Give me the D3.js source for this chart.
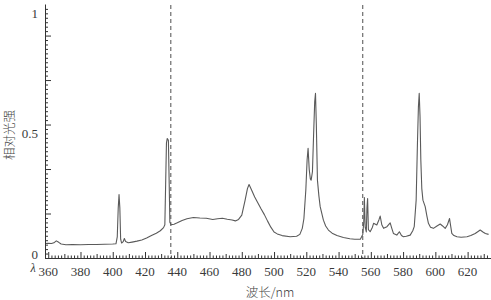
<!DOCTYPE html>
<html>
<head>
<meta charset="utf-8">
<script src="https://cdn.jsdelivr.net/npm/d3@7"></script>
<style>
  body { margin: 0; background: #fff; }
  svg { display: block; }
  .tick-label { font-family: "Liberation Serif", "DejaVu Serif", serif; font-size: 13px; fill: #3a3a3a; }
  .cjk { font-family: "Noto Sans CJK SC", sans-serif; font-size: 12.5px; fill: #444; font-weight: 300; }
</style>
</head>
<body>
<div id="chart"></div>
<script>
// spectrum: wavelength (nm) and relative intensity
var wavelengths = [
  358, 360, 362, 363.5, 365, 366.5, 368, 371, 375, 380, 385, 390, 395, 400,
  402, 402.8, 403.4, 403.9, 404.4, 404.9, 405.5, 406.5, 407.2, 408, 409.6,
  412, 415, 418, 421, 424, 427, 429.5, 431.5, 432.3, 432.8, 433.3, 433.8,
  434.5, 435.0, 435.4, 436.2, 438, 440, 443, 446, 450, 454, 458, 462, 465,
  468, 471, 474, 476, 478, 480, 482, 483.5, 484.5, 486, 488, 490, 492, 494,
  496, 498, 500, 502, 505, 510, 514, 516, 517.5, 518.5, 519.7, 520.5, 521.1,
  521.8, 522.5, 523, 523.8, 524.6, 525.2, 525.7, 526.2, 526.9, 527.8, 528.6,
  530.6, 532, 533.7, 536, 539, 543, 547, 550, 553.5, 555, 555.6, 556, 556.5,
  557.2, 557.6, 558, 558.5, 559.6, 561, 561.7, 563.7, 565, 565.8, 566.8,
  567.9, 570, 572, 573, 574, 576.1, 577.7, 579, 580.2, 582, 584.4, 586,
  586.9, 588.1, 588.9, 589.5, 590, 590.5, 591, 591.6, 592.3, 593.7, 594.8,
  595.7, 597, 598.8, 601, 603, 604.5, 606.1, 607.5, 608.8, 609.6, 610.2,
  611.5, 613.4, 616, 619.6, 622, 624.7, 626.5, 627.8, 629.5, 631, 633
];
var intensity = [
  0.052, 0.053, 0.052, 0.055, 0.063, 0.057, 0.050, 0.047, 0.048, 0.047, 0.048, 0.048, 0.049, 0.050,
  0.051, 0.080, 0.200, 0.255, 0.200, 0.070, 0.054, 0.060, 0.073, 0.060, 0.055,
  0.058, 0.062, 0.067, 0.075, 0.085, 0.095, 0.105, 0.118, 0.130, 0.300, 0.470, 0.488,
  0.480, 0.300, 0.140, 0.130, 0.132, 0.138, 0.148, 0.155, 0.160, 0.158, 0.157, 0.152, 0.155,
  0.157, 0.153, 0.150, 0.146, 0.152, 0.170, 0.230, 0.280, 0.297, 0.275, 0.245, 0.220, 0.195, 0.172,
  0.145, 0.120, 0.100, 0.092, 0.085, 0.080, 0.082, 0.090, 0.115, 0.155, 0.274, 0.400, 0.447,
  0.360, 0.320, 0.315, 0.350, 0.520, 0.640, 0.675, 0.550, 0.315, 0.250, 0.205,
  0.149, 0.125, 0.108, 0.095, 0.085, 0.077, 0.072, 0.070, 0.070, 0.090, 0.140, 0.243, 0.120,
  0.100, 0.200, 0.239, 0.110, 0.101, 0.120, 0.136, 0.129, 0.150, 0.166, 0.130,
  0.115, 0.122, 0.138, 0.115, 0.094, 0.087, 0.101, 0.085, 0.080, 0.082, 0.087, 0.105,
  0.122, 0.232, 0.468, 0.620, 0.675, 0.580, 0.398, 0.280, 0.232, 0.205, 0.165,
  0.136, 0.120, 0.115, 0.125, 0.133, 0.125, 0.115, 0.130, 0.156, 0.120, 0.094,
  0.085, 0.080, 0.078, 0.080, 0.085, 0.094, 0.102, 0.108, 0.100, 0.094, 0.090
];
var markerLines = [436, 555];          // dashed vertical lines (nm)
var xTickLabels = [360, 380, 400, 420, 440, 460, 480, 500, 520, 540, 560, 580, 600, 620];
var yTickLabels = [0, 0.5, 1];
var xMinorStep = 2, xMajorStep = 20;
var yMinorStep = 0.01846, yMajorEvery = 10;

var W = 491, H = 300;
var x = d3.scaleLinear().domain([358, 634.5]).range([45, 491]);
var y = d3.scaleLinear().domain([-0.008, 1.046]).range([258, 4]);

var svg = d3.select("#chart").append("svg")
    .attr("width", W).attr("height", H);

// dashed markers
svg.selectAll("line.marker").data(markerLines).enter().append("line")
    .attr("class", "marker")
    .attr("x1", d => x(d)).attr("x2", d => x(d))
    .attr("y1", y.range()[1] + 1).attr("y2", y.range()[0])
    .attr("stroke", "#3a3a3a").attr("stroke-width", 0.9)
    .attr("stroke-dasharray", "4,3");

// spectrum
var pts = wavelengths.map((d, i) => [d, intensity[i]]);
var line = d3.line().x(d => x(d[0])).y(d => y(d[1]));
svg.append("path")
    .attr("d", line(pts))
    .attr("fill", "none")
    .attr("stroke", "#5a5a5a")
    .attr("stroke-width", 1.1)
    .attr("stroke-linejoin", "round");

// x axis, ticks pointing up
var xMinor = d3.range(360, 634, xMinorStep);
var xAxis = d3.axisBottom(x).tickValues(xMinor).tickSizeInner(-3).tickSizeOuter(0).tickFormat("");
var gx = svg.append("g").attr("transform", "translate(0," + y.range()[0] + ")").call(xAxis);
gx.selectAll(".tick line")
    .attr("y2", d => (d % xMajorStep === 0) ? -6 : (d % 10 === 0 ? -4 : -2.5));
gx.selectAll("path, line").attr("stroke", "#333");

svg.selectAll("text.xlab").data(xTickLabels).enter().append("text")
    .attr("class", "tick-label xlab")
    .attr("x", d => x(d)).attr("y", 276)
    .attr("text-anchor", "middle")
    .text(d => d);

// y axis, ticks pointing right
var yMinor = d3.range(0, 57).map(i => y.domain()[0] + i * yMinorStep);
var yAxis = d3.axisLeft(y).tickValues(yMinor).tickSizeInner(-3).tickSizeOuter(0).tickFormat("");
var gy = svg.append("g").attr("transform", "translate(" + x.range()[0] + ",0)").call(yAxis);
gy.selectAll(".tick line")
    .attr("x2", (d, i) => (i % yMajorEvery === 0) ? 6 : 3);
gy.selectAll("path, line").attr("stroke", "#333");

svg.selectAll("text.ylab").data(yTickLabels).enter().append("text")
    .attr("class", "tick-label ylab")
    .attr("x", 38).attr("y", d => y(d) + 2.5)
    .attr("text-anchor", "end")
    .text(d => d);

// titles
svg.append("text")
    .attr("class", "tick-label")
    .attr("x", 33).attr("y", 272)
    .attr("text-anchor", "middle")
    .style("font-style", "italic")
    .style("font-size", "12px")
    .text("λ");

svg.append("text")
    .attr("class", "cjk")
    .attr("transform", "translate(14,135) rotate(-90)")
    .attr("text-anchor", "middle")
    .text("相对光强");

svg.append("text")
    .attr("class", "cjk")
    .attr("x", 270).attr("y", 297)
    .attr("text-anchor", "middle")
    .text("波长/nm");
</script>
</body>
</html>
